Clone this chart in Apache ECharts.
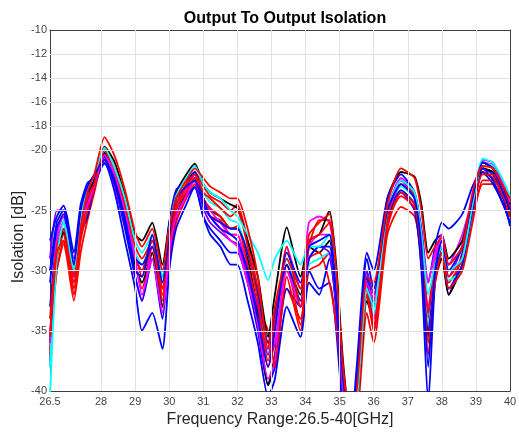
<!DOCTYPE html>
<html>
<head>
<meta charset="utf-8">
<script src="https://cdn.jsdelivr.net/npm/echarts@6/dist/echarts.min.js"></script>
<style>html,body{margin:0;padding:0;background:#fff}#c{width:519px;height:436px}</style>
</head>
<body>
<div id="c"></div>
<script>
// Frequency points (GHz)
const freq = [26.5, 26.7, 26.9, 27.0, 27.2, 27.4, 27.6, 27.8, 28.1, 28.4, 28.7, 29.0, 29.2, 29.5, 29.8, 30.0, 30.2, 30.5, 30.75, 31.0, 31.2, 31.5, 31.8, 32.0, 32.3, 32.6, 32.9, 33.1, 33.45, 33.85, 34.1, 34.4, 34.7, 34.9, 35.1, 35.3, 35.5, 35.8, 36.0, 36.4, 36.8, 37.2, 37.4, 37.6, 37.8, 38.0, 38.2, 38.6, 38.9, 39.2, 39.5, 39.8, 40.0];

const xTicks = [26.5, 28, 29, 30, 31, 32, 33, 34, 35, 36, 37, 38, 39, 40];
const yTicks = [-40, -35, -30, -25, -20, -18, -16, -14, -12, -10];

// Isolation traces (dB)
const blue1 = [-33.0, -27.5, -26.0, -27.0, -30.0, -27.0, -25.5, -23.0, -21.0, -23.5, -27.5, -31.5, -35.0, -33.5, -36.5, -30.0, -26.5, -24.5, -23.0, -25.5, -26.5, -27.5, -28.5, -28.5, -31.0, -35.0, -39.5, -38.0, -31.5, -33.0, -30.0, -31.5, -31.0, -35.0, -42.0, -46.0, -42.0, -30.0, -33.0, -26.0, -23.5, -25.0, -30.0, -41.0, -31.0, -28.5, -32.0, -28.5, -24.5, -21.5, -22.0, -24.0, -26.3];
const blue2 = [-27.5, -25.5, -24.6, -25.5, -28.5, -24.5, -22.7, -22.3, -20.5, -22.5, -25.5, -29.0, -29.5, -28.0, -30.5, -26.0, -23.3, -22.5, -21.8, -24.0, -25.5, -26.0, -26.5, -26.5, -28.5, -32.0, -36.0, -33.5, -29.5, -32.5, -29.0, -28.0, -28.0, -32.5, -40.0, -44.0, -38.0, -28.5, -30.0, -24.0, -22.0, -23.5, -26.5, -31.0, -28.0, -26.0, -26.5, -25.3, -23.0, -21.5, -22.5, -24.5, -26.0];
const blue3 = [-30.0, -26.0, -25.0, -26.0, -29.5, -25.0, -23.0, -22.0, -20.8, -22.8, -26.0, -30.0, -30.5, -27.0, -31.0, -27.0, -24.0, -23.0, -22.5, -24.5, -25.5, -26.5, -27.0, -27.5, -30.0, -34.0, -38.0, -35.0, -28.5, -31.0, -28.0, -27.5, -27.0, -32.0, -39.0, -43.5, -39.0, -29.0, -31.5, -25.0, -22.8, -24.0, -28.0, -38.0, -30.0, -27.5, -30.0, -28.0, -24.0, -21.0, -21.5, -23.5, -25.0];
const blue4 = [-31.0, -26.5, -25.3, -26.5, -30.5, -26.0, -24.2, -22.5, -21.1, -23.0, -26.5, -30.5, -32.5, -29.0, -34.0, -28.5, -25.5, -23.8, -23.1, -25.5, -27.0, -28.0, -29.5, -29.5, -32.5, -36.0, -40.5, -39.0, -33.0, -35.5, -31.0, -32.0, -29.0, -33.0, -41.0, -45.0, -41.0, -30.5, -35.0, -25.5, -23.3, -24.5, -29.5, -35.0, -30.5, -28.0, -31.5, -29.5, -25.0, -21.8, -22.8, -24.5, -26.0];
const purple1 = [-29.0, -25.0, -25.0, -26.0, -29.0, -25.8, -24.0, -22.5, -20.6, -23.0, -26.0, -29.0, -30.0, -27.5, -30.0, -27.0, -24.5, -23.0, -22.6, -24.8, -26.0, -26.8, -27.5, -27.8, -30.5, -33.0, -37.0, -34.0, -30.0, -33.0, -29.0, -28.0, -28.5, -33.0, -40.5, -44.0, -40.0, -30.0, -32.0, -25.0, -22.5, -24.0, -28.0, -33.5, -29.5, -27.5, -30.5, -28.0, -24.0, -21.0, -21.5, -23.0, -24.8];
const magenta1 = [-38.0, -27.0, -25.5, -26.5, -30.0, -26.0, -24.3, -22.8, -20.5, -22.5, -26.0, -30.5, -32.5, -28.0, -31.5, -27.5, -25.0, -23.3, -22.0, -24.0, -25.0, -26.0, -27.0, -27.0, -30.0, -34.5, -39.0, -37.5, -28.0, -31.5, -26.0, -25.5, -26.0, -30.0, -38.5, -42.5, -40.0, -31.0, -34.0, -25.0, -22.3, -23.5, -27.5, -33.0, -29.0, -27.0, -29.5, -27.0, -24.0, -21.0, -21.2, -23.0, -24.5];
const magenta2 = [-36.0, -27.5, -26.0, -27.0, -30.5, -26.0, -24.5, -23.0, -20.4, -22.0, -25.0, -29.0, -32.0, -29.0, -33.5, -28.5, -25.5, -23.8, -22.5, -24.5, -25.5, -26.5, -27.5, -28.0, -31.0, -34.0, -36.5, -36.0, -30.0, -33.0, -28.0, -27.0, -27.0, -31.5, -40.0, -44.0, -41.0, -31.0, -32.5, -25.5, -22.8, -23.8, -27.0, -31.0, -28.5, -27.0, -29.5, -28.0, -24.0, -20.8, -21.0, -22.8, -24.3];
const cyan1 = [-40.5, -29.0, -26.0, -27.0, -30.0, -25.5, -23.3, -22.0, -19.8, -21.5, -24.0, -27.5, -28.5, -27.0, -30.5, -26.5, -23.8, -22.3, -21.3, -22.8, -23.5, -24.0, -25.0, -25.5, -27.0, -28.5, -30.8, -29.0, -27.5, -29.5, -28.0, -28.0, -27.0, -31.0, -39.0, -43.0, -41.0, -31.5, -33.0, -25.0, -22.5, -23.5, -27.0, -32.0, -29.5, -28.0, -30.0, -29.0, -24.5, -20.7, -21.0, -22.5, -23.8];
const cyan2 = [-38.0, -28.0, -25.8, -27.0, -29.8, -25.5, -23.8, -22.3, -20.0, -21.8, -24.5, -28.5, -29.5, -27.5, -31.0, -27.0, -24.3, -22.8, -21.8, -23.5, -24.3, -24.8, -25.8, -26.0, -28.5, -31.5, -37.0, -35.0, -29.0, -32.5, -29.5, -29.0, -28.5, -32.0, -40.0, -44.0, -41.5, -32.0, -33.5, -25.5, -23.0, -24.0, -27.5, -34.5, -30.5, -28.5, -30.8, -30.0, -25.0, -21.0, -21.3, -22.8, -24.0];
const black1 = [-36.0, -28.5, -26.5, -27.5, -29.5, -25.0, -23.5, -22.5, -19.7, -21.0, -23.8, -27.0, -27.5, -26.0, -29.5, -26.0, -23.5, -22.0, -21.1, -22.8, -23.5, -24.0, -24.5, -24.8, -27.5, -30.5, -35.5, -32.0, -26.4, -30.5, -27.5, -27.0, -25.0, -29.5, -37.5, -42.0, -40.5, -31.0, -32.5, -24.0, -21.8, -22.2, -24.5, -28.5, -27.5, -27.0, -29.0, -27.5, -24.0, -21.0, -21.5, -23.0, -24.5];
const black2 = [-37.5, -29.0, -26.8, -28.0, -30.5, -26.0, -24.5, -23.0, -20.2, -22.0, -25.0, -29.5, -31.0, -28.5, -33.0, -28.5, -25.5, -23.5, -22.3, -24.0, -25.0, -25.5, -26.5, -26.5, -29.0, -33.5, -39.5, -37.0, -29.5, -32.0, -28.0, -28.5, -27.5, -32.5, -40.5, -44.5, -42.0, -32.5, -34.0, -26.0, -22.8, -24.0, -28.5, -35.5, -30.5, -29.0, -32.0, -29.5, -25.0, -21.5, -21.8, -23.5, -25.5];
const red1 = [-35.5, -28.5, -27.5, -28.5, -31.5, -26.5, -23.5, -22.0, -18.9, -20.5, -23.3, -26.8, -28.0, -26.5, -30.0, -26.5, -24.0, -22.5, -21.5, -22.3, -23.0, -23.5, -24.0, -24.0, -26.5, -30.5, -36.5, -33.0, -29.0, -31.5, -27.0, -26.0, -25.3, -30.0, -38.0, -42.0, -40.0, -30.5, -31.0, -24.5, -21.5, -22.3, -25.0, -29.0, -28.0, -27.3, -29.5, -28.0, -23.5, -21.3, -21.5, -23.0, -24.0];
const red2 = [-36.5, -30.0, -27.8, -29.0, -32.5, -28.5, -25.8, -23.5, -20.3, -22.0, -25.5, -29.5, -31.5, -28.5, -33.0, -29.0, -26.0, -24.0, -22.8, -24.5, -25.5, -25.8, -27.0, -27.0, -30.5, -33.5, -38.0, -36.0, -31.5, -34.0, -30.0, -29.5, -28.5, -33.5, -41.0, -45.0, -43.0, -33.5, -36.0, -27.0, -24.7, -25.5, -29.0, -37.0, -31.0, -29.0, -31.5, -29.5, -25.5, -22.8, -22.8, -24.0, -25.0];
const red3 = [-34.0, -28.0, -26.5, -27.5, -30.5, -25.5, -24.0, -22.8, -19.8, -21.5, -24.5, -28.0, -29.0, -27.5, -31.5, -27.5, -25.0, -23.0, -22.0, -23.5, -24.0, -24.8, -25.5, -25.0, -28.0, -32.5, -37.5, -34.5, -28.0, -33.0, -27.5, -27.0, -26.0, -31.0, -39.5, -43.0, -41.0, -31.5, -34.5, -25.5, -22.5, -23.8, -27.5, -33.5, -29.5, -28.0, -30.5, -28.8, -24.5, -22.0, -22.0, -23.5, -24.8];
const red4 = [-37.0, -29.0, -27.0, -28.0, -31.0, -27.0, -24.5, -22.8, -20.8, -22.3, -25.0, -28.5, -30.5, -28.0, -32.0, -28.0, -24.8, -23.5, -22.3, -24.0, -24.8, -25.5, -26.5, -26.3, -29.5, -33.0, -35.0, -38.0, -30.5, -35.0, -29.0, -28.5, -31.0, -34.5, -40.0, -44.0, -42.0, -32.0, -33.0, -26.0, -23.8, -24.8, -28.0, -34.0, -30.0, -28.5, -31.0, -29.0, -25.0, -21.8, -22.3, -23.8, -25.5];
const red5 = [-35.0, -30.0, -27.5, -28.5, -32.0, -27.5, -25.0, -23.0, -20.0, -21.8, -24.8, -29.0, -30.0, -27.0, -32.5, -28.0, -24.5, -22.8, -21.8, -23.0, -23.8, -24.3, -25.0, -24.5, -27.5, -31.5, -36.0, -34.0, -29.5, -34.5, -28.0, -25.8, -25.8, -30.5, -39.0, -43.5, -41.5, -32.0, -35.0, -26.5, -23.5, -24.5, -28.5, -36.0, -31.0, -28.5, -31.5, -30.0, -26.0, -22.5, -22.5, -23.5, -24.5];

// Drawing order (interleaved colours)
const traces = [
  ['#ff0000', red2], ['#0000ff', blue1], ['#000000', black2], ['#ff00ff', magenta1],
  ['#ff0000', red4], ['#00ffff', cyan2], ['#0000ff', blue4], ['#7f00ff', purple1],
  ['#ff0000', red5], ['#000000', black1], ['#0000ff', blue2], ['#ff00ff', magenta2],
  ['#ff0000', red3], ['#00ffff', cyan1], ['#0000ff', blue3], ['#ff0000', red1]
];

const FONT = 'Liberation Sans, Arial, Helvetica, sans-serif';
const AX = '#404040';

const gridLines = [];
xTicks.forEach(v => { if (v > 26.5 && v < 40) gridLines.push({ xAxis: v }); });
yTicks.forEach(v => { if (v > -40 && v < -10) gridLines.push({ yAxis: v }); });

const series = [{
  type: 'line', data: [[26.5, -40]], symbol: 'none', lineStyle: { opacity: 0 }, silent: true, z: 1,
  markLine: {
    silent: true, symbol: ['none', 'none'], animation: false,
    label: { show: false },
    lineStyle: { color: '#e2e2e2', width: 1, type: 'solid' },
    emphasis: { disabled: true },
    data: gridLines
  }
}];
traces.forEach(([c, vals]) => {
  series.push({
    type: 'line',
    data: freq.map((f, i) => [f, vals[i]]),
    showSymbol: false, symbol: 'none',
    smooth: 0.2,
    lineStyle: { color: c, width: 1.8 },
    itemStyle: { color: c },
    clip: true, z: 2
  });
});

const xCommon = {
  type: 'value', min: 26.5, max: 40,
  axisLine: { show: true, onZero: false, lineStyle: { color: AX, width: 1 } },
  axisTick: { show: true, inside: true, length: 5, customValues: xTicks, lineStyle: { color: AX } },
  splitLine: { show: false }
};
const yCommon = {
  type: 'value', min: -40, max: -10,
  axisLine: { show: true, onZero: false, lineStyle: { color: AX, width: 1 } },
  axisTick: { show: true, inside: true, length: 5, customValues: yTicks, lineStyle: { color: AX } },
  splitLine: { show: false }
};

const chart = echarts.init(document.getElementById('c'), null, { renderer: 'canvas' });
chart.setOption({
  animation: false,
  backgroundColor: '#ffffff',
  title: {
    text: 'Output To Output Isolation', left: 280, top: 6, textAlign: 'center',
    textStyle: { fontFamily: FONT, fontSize: 16, fontWeight: 'bold', color: '#000' }
  },
  grid: { left: 50, right: 9, top: 30, bottom: 45, containLabel: false, outerBoundsMode: 'none' },
  xAxis: [
    Object.assign({}, xCommon, {
      position: 'bottom',
      name: 'Frequency Range:26.5-40[GHz]', nameLocation: 'middle', nameGap: 21,
      nameTextStyle: { fontFamily: FONT, fontSize: 16, color: '#262626' },
      axisLabel: {
        show: true, customValues: xTicks, margin: 5, fontFamily: FONT, fontSize: 11, color: '#444',
        formatter: v => (Math.abs(v - 26.5) < 1e-6 ? '26.5' : String(Math.round(v)))
      }
    }),
    Object.assign({}, xCommon, { position: 'top', axisLabel: { show: false } })
  ],
  yAxis: [
    Object.assign({}, yCommon, {
      position: 'left',
      axisLabel: { show: true, customValues: yTicks, margin: 3, fontFamily: FONT, fontSize: 11, color: '#444' }
    }),
    Object.assign({}, yCommon, { position: 'right', axisLabel: { show: false } })
  ],
  graphic: [{
    type: 'text', x: 19, y: 237, rotation: Math.PI / 2, silent: true,
    style: { text: 'Isolation [dB]', fontFamily: FONT, fontSize: 16, fill: '#262626', align: 'center', verticalAlign: 'middle' }
  }],
  series: series
});
</script>
</body>
</html>
